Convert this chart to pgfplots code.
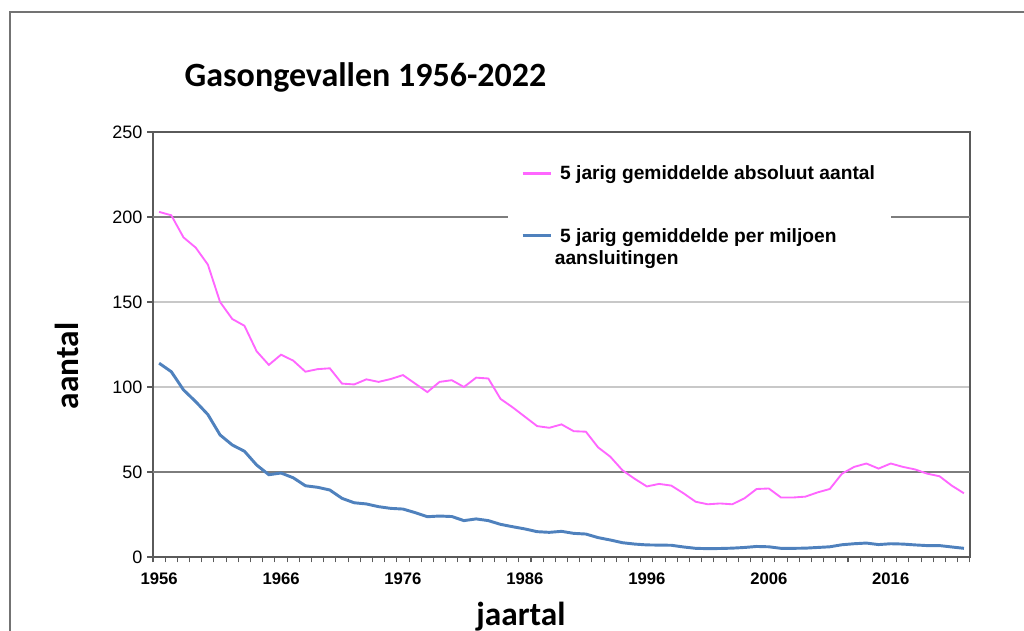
\documentclass[border=0pt]{standalone}
\usepackage{fontspec}
\setmainfont{Liberation Sans}
\newfontfamily\calibri{Carlito}
\usepackage{pgfplots}
\pgfplotsset{compat=1.18}
\usepackage{pgfplotstable}

\definecolor{roze}{RGB}{255,102,255}
\definecolor{blauw}{RGB}{79,129,189}
\definecolor{rasterdonker}{RGB}{125,125,125}
\definecolor{rasterlicht}{RGB}{200,200,200}
\definecolor{aslijn}{RGB}{90,90,90}

% 5-jarig gemiddelde: absoluut aantal en per miljoen aansluitingen
\pgfplotstableread{
jaar abs permiljoen
1956 203 114
1957 201 109
1958 188 98.3
1959 182 91.4
1960 172 83.8
1961 150 71.8
1962 140 65.9
1963 136 62.2
1964 121 54.1
1965 113 48.4
1966 119 49.4
1967 115.5 46.6
1968 109 41.9
1969 110.5 41
1970 111 39.4
1971 102 34.5
1972 101.5 31.9
1973 104.5 31.2
1974 103 29.6
1975 104.7 28.6
1976 107 28.2
1977 102 26.1
1978 97 23.7
1979 103 24.1
1980 104 23.8
1981 100 21.4
1982 105.5 22.4
1983 105 21.4
1984 93 19.2
1985 88 17.8
1986 82.5 16.5
1987 77 14.9
1988 76 14.5
1989 78 15.1
1990 74 13.9
1991 73.7 13.5
1992 64.5 11.4
1993 59 10
1994 51 8.4
1995 46 7.6
1996 41.5 7.1
1997 43 7
1998 42 6.9
1999 37.5 5.9
2000 32.5 5.1
2001 31 4.9
2002 31.5 5
2003 31 5.2
2004 34.5 5.6
2005 40 6.2
2006 40.3 6
2007 35 5.1
2008 35 5.1
2009 35.5 5.2
2010 38 5.6
2011 40 6
2012 49 7.2
2013 53 7.8
2014 55 8.2
2015 52 7.3
2016 55 7.8
2017 53 7.6
2018 51.5 7.1
2019 49 6.7
2020 47.5 6.7
2021 42 5.9
2022 37.5 5.1
}\gasdata

\begin{document}
\begin{tikzpicture}
\useasboundingbox (0,0) rectangle (768pt,473.25pt);
\draw[black!55, line width=0.8pt] (7.5pt,-1pt) -- (7.5pt,464.25pt) -- (769pt,464.25pt);
\node[anchor=west, font=\calibri\bfseries\fontsize{25.5}{30}\selectfont] at (135pt,415.5pt) {Gasongevallen 1956-2022};
\node[anchor=base, rotate=90, font=\calibri\bfseries\fontsize{25}{28}\selectfont] at (58.5pt,198.75pt) {aantal};
\node[anchor=base, font=\calibri\bfseries\fontsize{25}{28}\selectfont] at (390.75pt,4pt) {jaartal};

\begin{axis}[
  at={(114.75pt,55.5pt)}, anchor=south west,
  scale only axis, width=612.75pt, height=318.75pt,
  xmin=1955.5, xmax=2022.5, ymin=0, ymax=250,
  xtick={1956,1966,...,2016},
  xticklabels={1956,1966,1976,1986,1996,2006,2016},
  minor xtick={1955.5,1956.5,...,2022.5},
  ytick={0,100,150,250},
  extra y ticks={50,200},
  extra y tick style={grid style={rasterdonker, line width=1pt}},
  ymajorgrids,
  grid style={rasterlicht, line width=1pt},
  xtick pos=bottom, ytick pos=left,
  tick align=outside,
  major tick length=4.5pt,
  minor tick length=4pt,
  major x tick style={draw=none},
  tick style={aslijn, line width=0.8pt},
  axis line style={aslijn, line width=1.2pt},
  /pgf/number format/assume math mode=true,
  yticklabel style={font=\fontsize{13.5}{15}\selectfont},
  xticklabel style={font=\bfseries\fontsize{12.5}{15}\selectfont, yshift=-4pt},
  legend style={at={(0.4345,0.9530)}, anchor=north west, draw=none, fill=white,
    font=\bfseries\fontsize{14.4}{16.5}\selectfont, row sep=30pt,
    inner xsep=9.75pt, inner ysep=8pt,
    cells={anchor=west, align=left}},
  legend image code/.code={\draw[#1] (0pt,0pt) -- (21pt,0pt);},
]
\addplot[roze, line width=1.4pt, forget plot] table[x=jaar, y=abs] {\gasdata};
\addplot[blauw, line width=2.2pt, forget plot] table[x=jaar, y=permiljoen] {\gasdata};
\addlegendimage{draw=roze, line width=1.8pt}
\addlegendentry{\hspace{4pt}5 jarig gemiddelde absoluut aantal}
\addlegendimage{draw=blauw, line width=2.2pt}
\addlegendentry{\raisebox{0pt}[\height][0pt]{\begin{tabular}[t]{@{}l@{}}\hspace{4pt}5 jarig gemiddelde per miljoen\\aansluitingen\end{tabular}}}
\end{axis}
\end{tikzpicture}
\end{document}
